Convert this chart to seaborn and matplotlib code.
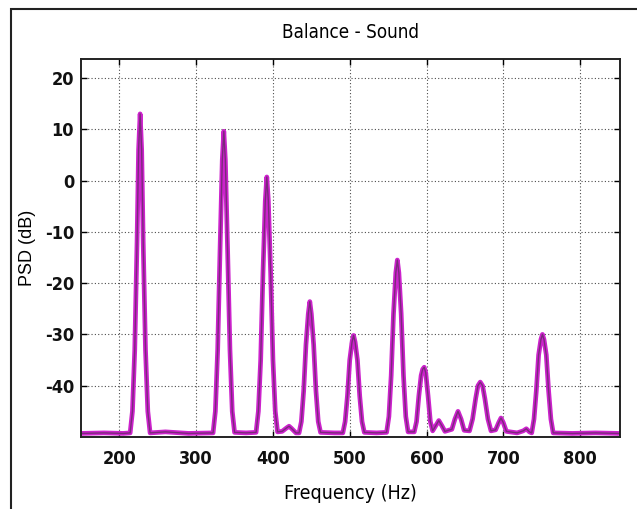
import matplotlib
matplotlib.use("Agg")
import matplotlib.pyplot as plt
import matplotlib.patches as mpatches
import seaborn as sns
import pandas as pd

# Spectrum trace (Hz, dB)
freq_hz = [150, 180, 205, 214, 217, 220, 223, 225, 227, 229, 231, 234, 237, 240,
           260, 290, 322, 325, 328, 331, 334, 336, 338, 341, 344, 347, 350,
           365, 378, 381, 384, 387, 390, 392, 394, 397, 400, 403, 406,
           412, 418, 421, 424, 430,
           434, 437, 440, 443, 446, 448, 450, 453, 456, 459, 462,
           480, 491, 494, 497, 500, 503, 505, 507, 510, 513, 516, 519,
           535, 548, 551, 554, 557, 560, 562, 564, 567, 570, 573, 576,
           584, 587, 590, 593, 595, 597, 599, 602, 605, 608,
           612, 616, 620, 624,
           633, 637, 641, 645, 649,
           656, 660, 664, 667, 670, 673, 676, 680, 684,
           690, 694, 697, 700, 704,
           718, 726, 730, 734,
           737, 740, 743, 746, 749, 751, 753, 756, 759, 762, 765,
           790, 820, 850]
psd_db = [-49.3, -49.2, -49.3, -49.2, -45, -33, -12, 6, 13, 6, -12, -33, -45, -49.2,
          -49.0, -49.3, -49.2, -45, -33, -14, 4, 9.6, 4, -14, -33, -45, -49.1,
          -49.2, -49.1, -45, -35, -18, -4, 0.7, -4, -18, -35, -45, -49.0,
          -48.9, -48.2, -47.9, -48.3, -49.2,
          -49.2, -47, -41, -32, -26, -23.6, -26, -32, -41, -47, -49.1,
          -49.2, -49.2, -47, -42, -35, -31.5, -30.2, -31.5, -35, -42, -47, -49.1,
          -49.2, -49.1, -46, -38, -26, -18, -15.5, -18, -26, -38, -46, -49.0,
          -49.0, -47, -42, -38, -36.8, -36.4, -37.5, -42, -47, -48.8,
          -47.8, -46.8, -47.8, -48.9,
          -48.5, -46.5, -45.0, -46.5, -48.7,
          -48.8, -46.5, -42.5, -40, -39.3, -40, -42.5, -46.5, -48.8,
          -48.6, -47.2, -46.3, -47.2, -48.9,
          -49.2, -48.8, -48.4, -49.0,
          -49.2, -46.5, -41, -34, -31, -30, -31, -34, -41, -46.5, -49.2,
          -49.3, -49.2, -49.3]

title_text = "Balance - Sound"
x_label = "Frequency (Hz)"
y_label = "PSD (dB)"
x_ticks = [200, 300, 400, 500, 600, 700, 800]
y_ticks = [-40, -30, -20, -10, 0, 10, 20]

df = pd.DataFrame({"freq": freq_hz, "psd": psd_db})

sns.set_theme(style="white")
plt.rcParams["font.family"] = ["DejaVu Sans"]
plt.rcParams["text.color"] = "black"

fig = plt.figure(figsize=(6.37, 5.09), dpi=100)
ax = fig.add_axes([81 / 637, 1 - 437 / 509, (620 - 81) / 637, (437 - 59) / 509])

sns.lineplot(data=df, x="freq", y="psd", ax=ax, color="#cc22cc", linewidth=3.4,
             sort=False, estimator=None)
sns.lineplot(data=df, x="freq", y="psd", ax=ax, color="#7a2a7a", linewidth=1.0,
             sort=False, estimator=None)

ax.set_xlim(150, 852)
ax.set_ylim(-50, 23.7)
ax.set_xticks(x_ticks)
ax.set_yticks(y_ticks)
ax.set_xticklabels([str(t) for t in x_ticks], fontsize=13, fontstretch="condensed",
                   fontweight="bold")
ax.set_yticklabels([str(t) for t in y_ticks], fontsize=13, fontstretch="condensed",
                   fontweight="bold")
ax.grid(True, color="black", linestyle=(0, (1, 2)), linewidth=0.8, alpha=0.7)
ax.tick_params(axis="x", pad=9)
ax.tick_params(axis="y", pad=5)
ax.tick_params(direction="in", length=4, width=1.0, top=True, right=True,
               bottom=True, left=True, colors="black", labelcolor="#111111")
for s in ax.spines.values():
    s.set_color("#222222")
    s.set_linewidth(1.4)

ax.set_title(title_text, fontsize=13.5, pad=15, fontstretch="condensed", color="black")
ax.set_xlabel(x_label, fontsize=14, labelpad=12, fontstretch="condensed", color="black")
ax.set_ylabel(y_label, fontsize=13, color="black",
              family=["Liberation Sans", "DejaVu Sans"])
ax.yaxis.set_label_coords(-0.083, 0.5)

# outer frame of the figure (cut off at right and bottom)
frame = mpatches.Rectangle((11 / 637, -0.1), 1.2, 1 - 9 / 509 + 0.1,
                           transform=fig.transFigure, fill=False,
                           edgecolor="#222222", linewidth=1.5, clip_on=False)
fig.patches.append(frame)

fig.savefig("out.png", dpi=100)
